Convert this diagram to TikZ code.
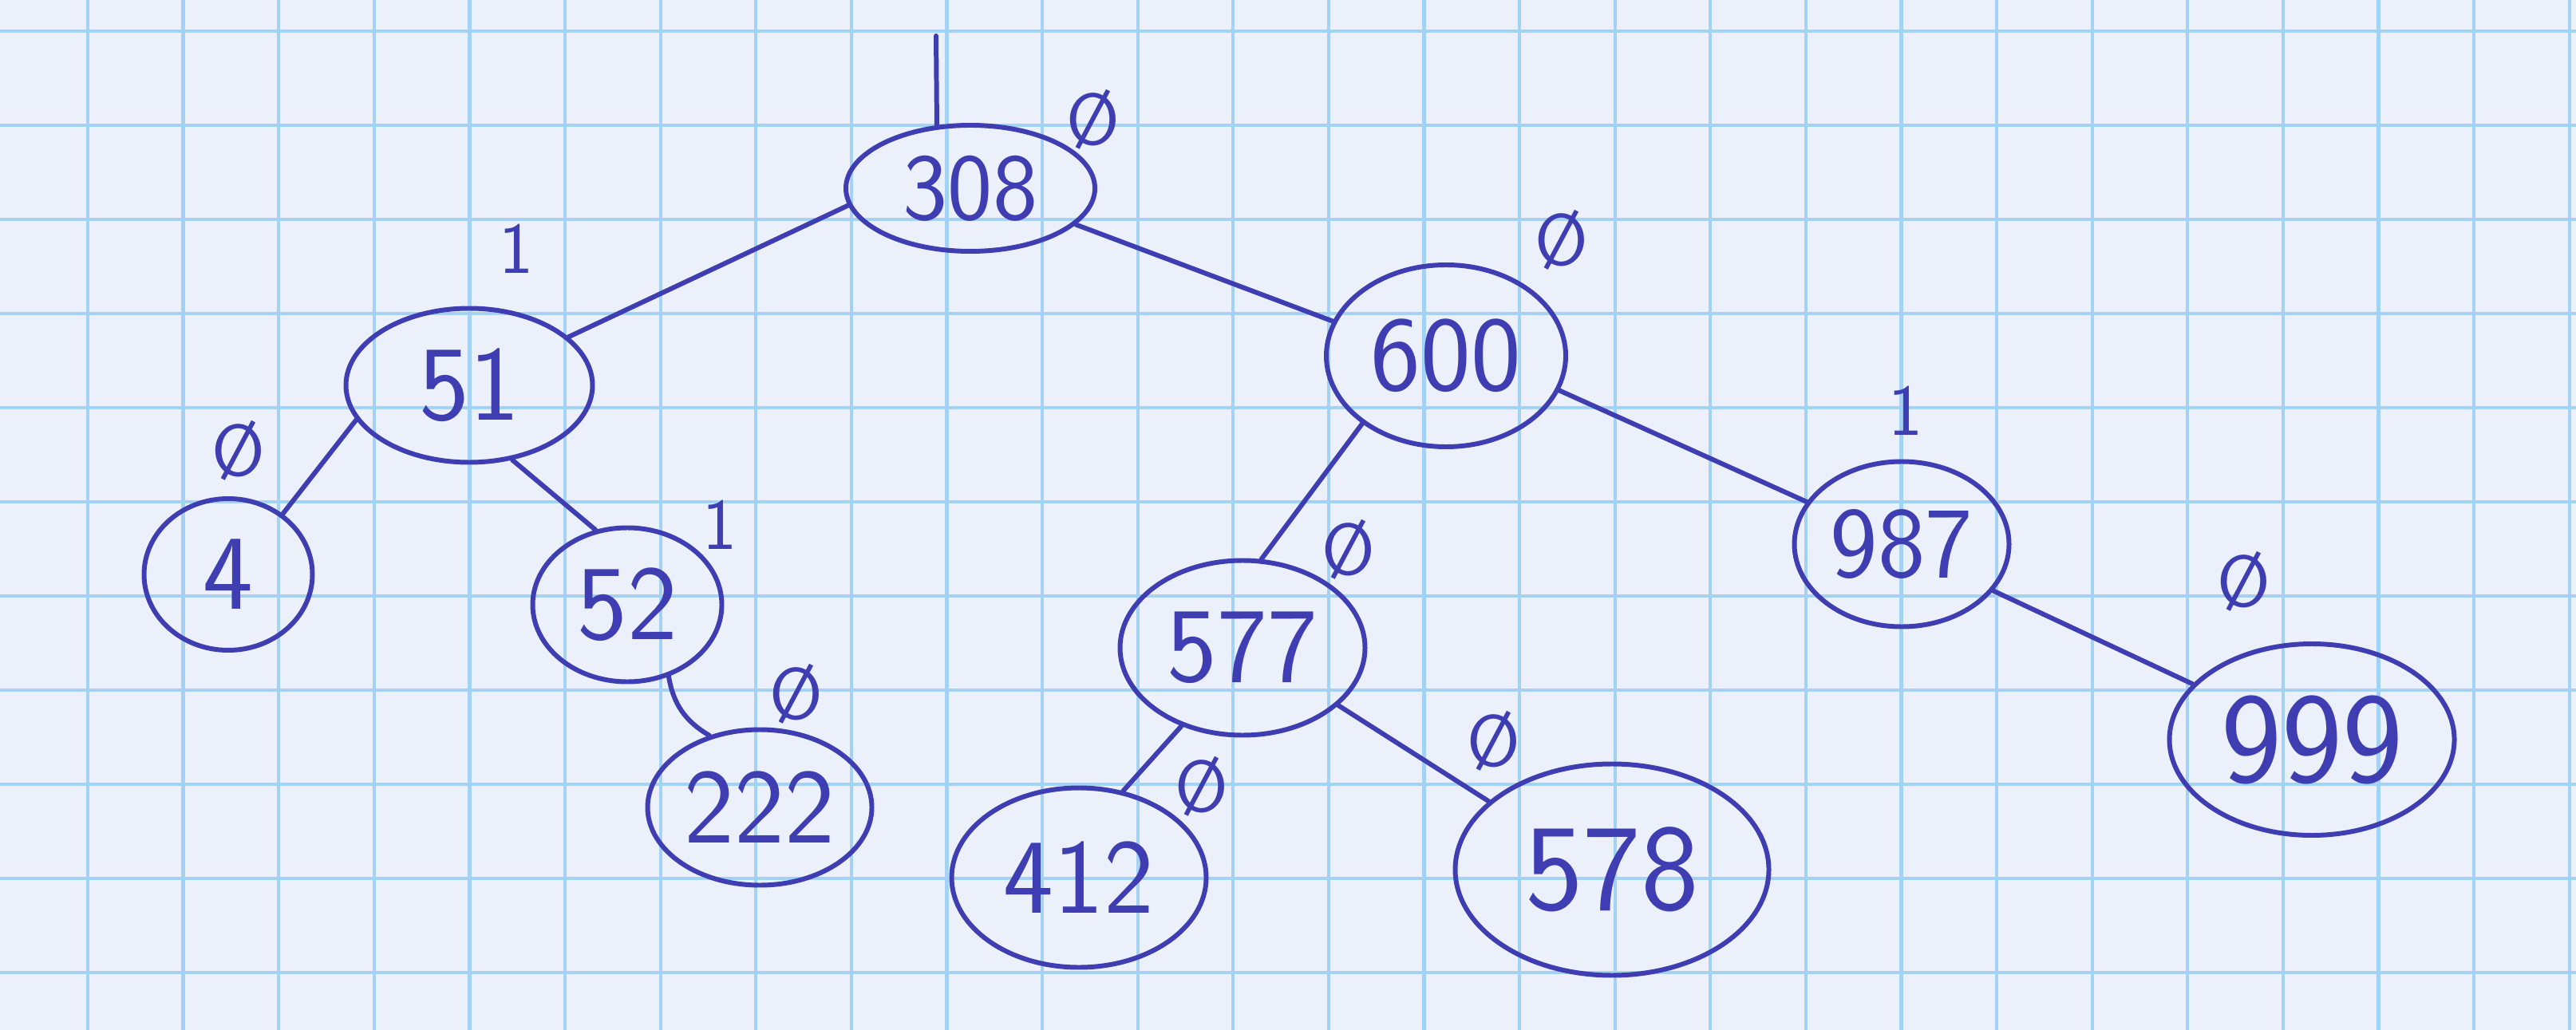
\documentclass[tikz,border=0pt]{standalone}
\usepackage{fontspec}
\usepackage{tikz}
\usetikzlibrary{shapes.geometric}

\definecolor{ink}{RGB}{62,62,178}
\definecolor{paper}{RGB}{236,240,251}
\definecolor{gridline}{RGB}{164,210,244}

\begin{document}
\begin{tikzpicture}[x=1cm, y=-1cm,
  keynode/.style={ellipse, draw=ink, line width=1.7pt, inner sep=0pt, text=ink,
                  font=\sffamily\fontsize{38}{38}\selectfont},
  balance/.style={text=ink, font=\sffamily\fontsize{26}{26}\selectfont},
  link/.style={draw=ink, line width=1.7pt, line cap=round}]

\useasboundingbox (0,0) rectangle (32.28,12.91);

% squared paper
\fill[paper] (0,0) rectangle (32.28,12.91);
\foreach \i in {0,...,26}
  \draw[gridline, line width=1.2pt] ({1.10+1.196*\i},0) -- ({1.10+1.196*\i},12.91);
\foreach \j in {0,...,10}
  \draw[gridline, line width=1.2pt] (0,{0.39+1.18*\j}) -- (32.28,{0.39+1.18*\j});

% keys
\node[keynode, minimum width=3.12cm, minimum height=1.58cm,
      font=\sffamily\fontsize{34}{34}\selectfont] (n308) at (12.16, 2.36) {308};

\node[keynode, minimum width=3.09cm, minimum height=1.93cm] (n51)  at ( 5.88, 4.83) {51};
\node[keynode, minimum width=2.11cm, minimum height=1.90cm] (n4)   at ( 2.86, 7.20) {4};
\node[keynode, minimum width=2.37cm, minimum height=1.93cm] (n52)  at ( 7.86, 7.58) {52};
\node[keynode, minimum width=2.81cm, minimum height=1.95cm] (n222) at ( 9.52,10.12) {222};

\node[keynode, minimum width=3.00cm, minimum height=2.28cm] (n600) at (18.12, 4.46) {600};
\node[keynode, minimum width=3.07cm, minimum height=2.19cm] (n577) at (15.57, 8.12) {577};
\node[keynode, minimum width=3.19cm, minimum height=2.25cm] (n412) at (13.52,11.00) {412};
\node[keynode, minimum width=3.93cm, minimum height=2.65cm,
      font=\sffamily\fontsize{44}{44}\selectfont] (n578) at (20.20,10.90) {578};

\node[keynode, minimum width=2.69cm, minimum height=2.07cm,
      font=\sffamily\fontsize{36}{36}\selectfont] (n987) at (23.83, 6.82) {987};
\node[keynode, minimum width=3.57cm, minimum height=2.40cm,
      font=\sffamily\fontsize{46}{46}\selectfont] (n999) at (28.97, 9.27) {999};

% balance factors
\node[balance] (b308) at (13.70, 1.50) {\O};
\node[balance] (b51)  at ( 6.47, 3.12) {1};
\node[balance] (b4)   at ( 2.99, 5.65) {\O};
\node[balance] (b52)  at ( 9.02, 6.58) {1};
\node[balance] (b222) at ( 9.98, 8.70) {\O};
\node[balance] (b600) at (19.57, 3.01) {\O};
\node[balance] (b577) at (16.90, 6.89) {\O};
\node[balance] (b412) at (15.06, 9.86) {\O};
\node[balance] (b578) at (18.72, 9.29) {\O};
\node[balance] (b987) at (23.88, 5.15) {1};
\node[balance] (b999) at (28.12, 7.29) {\O};

% edges
\coordinate (root) at (11.73, 0.45);
\draw[link] (root) -- (n308.118);
\draw[link] (n308.188) -- (n51.26);
\draw[link] (n308.341) -- (n600.163);
\draw[link] (n51.197) -- (n4.48);
\draw[link] (n51.300) -- (n52.113);
\draw[link] (n52.300) to[bend right=25] (n222.125);
\draw[link] (n600.219) -- (n577.78);
\draw[link] (n600.343) -- (n987.156);
\draw[link] (n577.232) -- (n412.63);
\draw[link] (n577.329) -- (n578.151);
\draw[link] (n987.333) -- (n999.155);

\end{tikzpicture}
\end{document}
